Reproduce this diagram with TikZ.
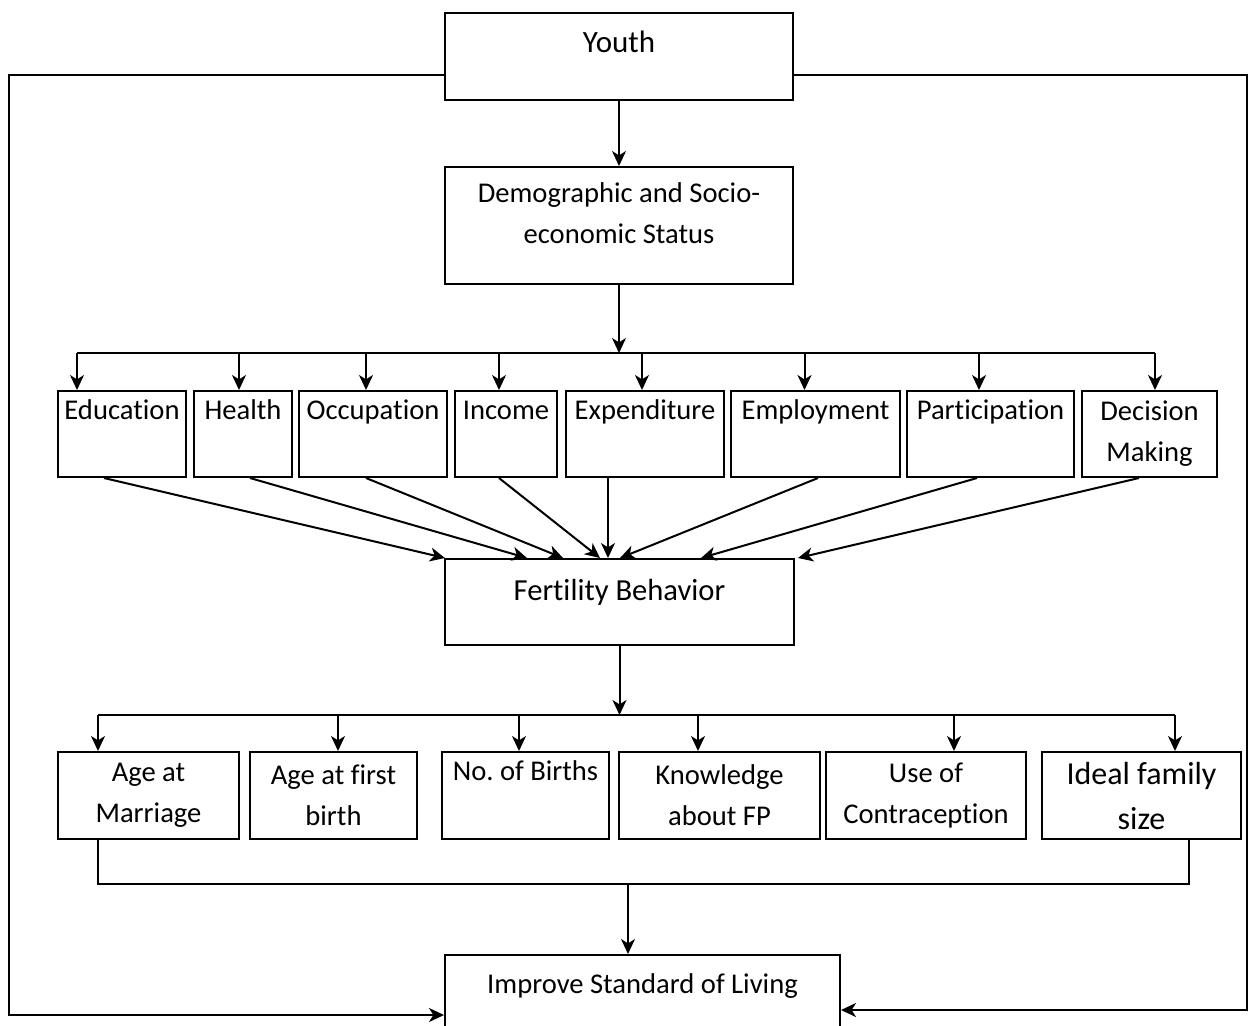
\documentclass[tikz,border=0pt]{standalone}
\usepackage{fontspec}
\setmainfont{Carlito}[Ligatures=NoCommon]
\usetikzlibrary{arrows.meta}

\tikzset{
	box/.style={draw, line width=1pt, inner sep=0pt, align=center, font=\fontsize{14.3pt}{20.5pt}\selectfont},
	row1/.style={box, minimum height=43pt},
	row2/.style={box, minimum height=43.5pt},
	firstline/.style={text height=10pt, text depth=25pt},
}

\begin{document}
\begin{tikzpicture}[x=0.5pt, y=-0.5pt, line width=1pt, arr/.style={-{Stealth[length=7.5pt,width=7pt,inset=2.2pt]}}]
	\useasboundingbox (0,0) rectangle (1253,1025);

	\node[box, minimum width=174pt, minimum height=43.5pt, text height=10pt, text depth=14pt, font=\fontsize{15.5pt}{20pt}\selectfont] (youth) at (619,56.5) {Youth};
	\node[box, minimum width=174pt, minimum height=58.5pt, text depth=12.5pt] (demo) at (619,225.5) {Demographic and Socio-\\economic Status};

	\node[row1, firstline, minimum width=64pt] (edu) at (122,434) {Education};
	\node[row1, firstline, minimum width=49pt] (hea) at (243,434) {Health};
	\node[row1, firstline, minimum width=74pt] (occ) at (373,434) {Occupation};
	\node[row1, firstline, minimum width=51pt] (inc) at (506,434) {Income};
	\node[row1, firstline, minimum width=79pt] (exp) at (645,434) {Expenditure};
	\node[row1, firstline, minimum width=84.5pt] (emp) at (815.5,434) {Employment};
	\node[row1, firstline, minimum width=83.5pt] (par) at (990.5,434) {Participation};
	\node[row1, minimum width=67.5pt] (dec) at (1149.5,434) {Decision\\Making};

	\node[box, minimum width=174.5pt, minimum height=43pt, text height=10pt, text depth=11.5pt, font=\fontsize{15.3pt}{20pt}\selectfont] (fert) at (619.5,602) {Fertility Behavior};

	\node[row2, minimum width=90.5pt] (mar) at (148.5,795.5) {Age at\\Marriage};
	\node[row2, minimum width=83.5pt] (fir) at (333.5,795.5) {Age at first\\birth};
	\node[row2, firstline, minimum width=83.5pt] (nob) at (525.5,795.5) {No.\ of Births};
	\node[row2, minimum width=100.5pt] (kno) at (719.5,795.5) {Knowledge\\about FP};
	\node[row2, minimum width=100pt] (con) at (926,795.5) {Use of\\Contraception};
	\node[row2, minimum width=99.5pt, font=\fontsize{16pt}{22.5pt}\selectfont] (ide) at (1141.5,795.5) {Ideal family\\size};

	\node[box, minimum width=197.5pt, minimum height=38.5pt, text height=10pt, text depth=10pt] (imp) at (642.5,993.5) {Improve Standard of Living};

	\coordinate (bus1) at (617,353);
	\coordinate (bus2) at (617,715);
	\coordinate (bus3) at (628,884);
	\coordinate (fbl) at (9,500);
	\coordinate (fbr) at (1247,500);

	\draw[arr] (youth) -- (demo);
	\draw[arr] (demo.south) -- (demo.south |- bus1);
	\draw ([xshift=-22.5pt]edu.north |- bus1) -- ([xshift=2.75pt]dec.north |- bus1);
	\foreach \n/\d in {edu/-22.5, hea/-2, occ/-3.5, inc/-3.5, exp/-1.5, emp/-5.5, par/-5.75, dec/2.75}
		\draw[arr] ([xshift=\d pt]\n.north |- bus1) -- ([xshift=\d pt]\n.north);

	\foreach \n/\s/\t in {edu/-9/-87.25, hea/3.5/-46.25, occ/-3.5/-28.25, inc/-3.5/-9.75, exp/-18.5/-5.75, emp/1.25/0.25, par/-6.75/40.75, dec/-5.25/89.25}
		\draw[arr] ([xshift=\s pt]\n.south) -- ([xshift=\t pt]fert.north);

	\draw[arr] (fert.south) -- (fert.south |- bus2);
	\draw ([xshift=-25.25pt]mar.north |- bus2) -- ([xshift=16.75pt]ide.north |- bus2);
	\foreach \n/\d in {mar/-25.25, fir/2.25, nob/-3.25, kno/-10.75, con/14, ide/16.75}
		\draw[arr] ([xshift=\d pt]\n.north |- bus2) -- ([xshift=\d pt]\n.north);

	\draw ([xshift=-25.25pt]mar.south) |- (bus3) -| ([xshift=23.75pt]ide.south);
	\draw[arr] (bus3) -- (bus3 |- imp.north);

	\draw[arr] ([yshift=-9.25pt]youth.west) -| (fbl) |- ([yshift=-10.75pt]imp.west);
	\draw[arr] ([yshift=-9.25pt]youth.east) -| (fbr) |- ([yshift=-8.25pt]imp.east);
\end{tikzpicture}
\end{document}
